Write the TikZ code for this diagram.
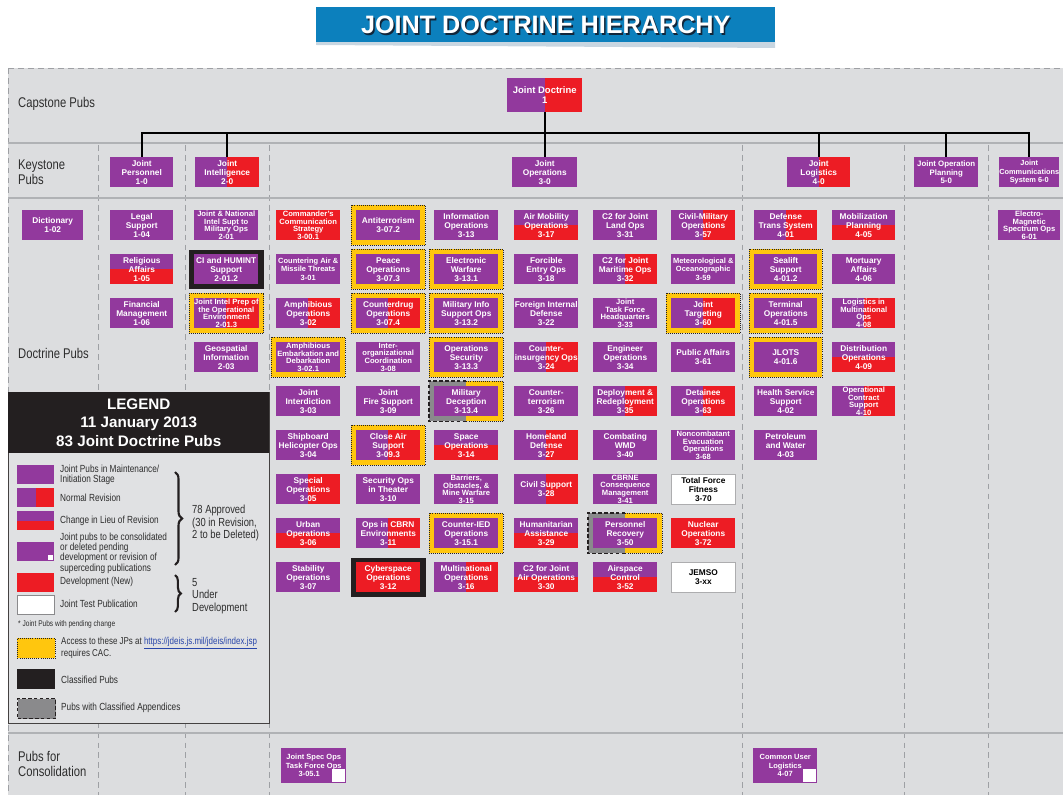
\documentclass[tikz,border=0pt]{standalone}
\usepackage{fontspec}
\setmainfont{Liberation Sans}
\newfontfamily\condfont[FakeStretch=0.8]{Liberation Sans}
\usetikzlibrary{decorations.pathreplacing}

\definecolor{jpurple}{RGB}{146,57,157}
\definecolor{jred}{RGB}{237,28,36}
\definecolor{jyellow}{RGB}{255,198,14}
\definecolor{jbg}{RGB}{220,221,223}
\definecolor{jlegbg}{RGB}{224,225,227}
\definecolor{jblue}{RGB}{12,128,189}
\definecolor{jribbon}{RGB}{200,214,225}
\definecolor{jshadow}{RGB}{18,38,58}
\definecolor{jdash}{RGB}{158,160,164}
\definecolor{jsep}{RGB}{176,178,181}
\definecolor{jblack}{RGB}{35,31,32}
\definecolor{jgray}{RGB}{138,138,140}
\definecolor{jtext}{RGB}{45,45,45}
\definecolor{jlink}{RGB}{40,70,170}

\pgfdeclarelayer{bg}
\pgfdeclarelayer{fr}
\pgfsetlayers{bg,fr,main}

\tikzset{
  pub/.style={rectangle, anchor=north west, minimum width=64*0.03cm,
    minimum height=30*0.03cm, inner sep=0pt, fill=jpurple, text=white,
    align=center, font=\bfseries\fontsize{7.1}{7.7}\selectfont},
  wd/.style={minimum width=#1*0.03cm},
  ht/.style={minimum height=#1*0.03cm},
  pubsmall/.style={font=\bfseries\fontsize{6.4}{7.4}\selectfont},
  pubtiny/.style={font=\bfseries\fontsize{6.5}{6.6}\selectfont},
  pubcons/.style={font=\bfseries\fontsize{6.4}{7.3}\selectfont},
  rev/.style={path picture={\fill[jred] (path picture bounding box.north)
    rectangle (path picture bounding box.south east);}},
  cilr/.style={path picture={\fill[jred] (path picture bounding box.west)
    rectangle (path picture bounding box.south east);}},
  consol/.style={path picture={\fill[white]
    ([shift={(-0.42cm,0.42cm)}]path picture bounding box.south east) rectangle
    ([shift={(-0.04cm,0.04cm)}]path picture bounding box.south east);}},
  legcons/.style={path picture={\fill[white]
    ([shift={(-0.2cm,0.2cm)}]path picture bounding box.south east) rectangle
    ([shift={(-0.03cm,0.03cm)}]path picture bounding box.south east);}},
  newpub/.style={fill=jred},
  testpub/.style={fill=white, text=black, draw=jgray!70, line width=0.6pt},
  cacline/.style={draw=jblack, line width=0.7pt, dash pattern=on 0.7pt off 1.1pt},
  cacf/.style={fill=jyellow, cacline},
  appline/.style={draw=jblack, line width=0.9pt, dash pattern=on 3pt off 2pt},
  appf/.style={fill=jgray, appline},
  clsf/.style={fill=jblack, draw=jblack},
  divl/.style={draw=jdash, line width=0.8pt, dash pattern=on 5pt off 3.5pt},
  sepl/.style={draw=jsep, line width=1.6pt},
  tree/.style={draw=black, line width=1.6pt},
  sectlabel/.style={anchor=west, inner sep=0pt, align=left, text=jtext,
    font=\condfont\fontsize{12}{12.8}\selectfont},
  swatch/.style={anchor=north west, minimum width=37*0.03cm,
    minimum height=19*0.03cm, inner sep=0pt, fill=jpurple},
  legtext/.style={anchor=west, inner sep=0pt, align=left, text=jtext,
    font=\condfont\fontsize{8.8}{8.8}\selectfont},
  bracetext/.style={anchor=west, inner sep=0pt, align=left, text=jtext,
    font=\condfont\fontsize{10}{10.7}\selectfont},
  legbrace/.style={decorate, decoration={brace, amplitude=#1}, line width=1.8pt, draw=jblack},
}

% one publication box: options, name, left x, top y, text
\newcommand\pb[5][]{\node[pub,#1] (#2) at (#3,#4) {#5};}
% frames drawn behind the boxes
\newcommand\cacframe[1]{\path[cacf] ([shift={(-5,-5)}]#1.north west) rectangle ([shift={(5,5)}]#1.south east);}
\newcommand\clsframe[1]{\path[clsf] ([shift={(-5,-4)}]#1.north west) rectangle ([shift={(5,4)}]#1.south east);}
\newcommand\splitframe[1]{%
  \fill[jgray] ([shift={(-5,-5)}]#1.north west) rectangle ([shift={(0,5)}]#1.south);
  \fill[jyellow] ([shift={(0,-5)}]#1.north) rectangle ([shift={(5,5)}]#1.south east);
  \draw[appline] ([shift={(0,-5)}]#1.north) -- ([shift={(-5,-5)}]#1.north west)
    -- ([shift={(-5,5)}]#1.south west) -- ([shift={(0,5)}]#1.south);
  \draw[cacline] ([shift={(0,-5)}]#1.north) -- ([shift={(5,-5)}]#1.north east)
    -- ([shift={(5,5)}]#1.south east) -- ([shift={(0,5)}]#1.south);}

\begin{document}
\begin{tikzpicture}[x=0.03cm,y=-0.03cm]
\useasboundingbox (0,0) rectangle (1063,795);

% ---------- background, section rules and column dividers ----------
\begin{pgfonlayer}{bg}
  \fill[jbg] (8,68) rectangle (1063,795);
  \draw[divl] (8,68) -- (1063,68);
  \draw[divl] (8,68) -- (8,795);
  \foreach \x in {98,185,269,742,904,988} \draw[divl] (\x,145) -- (\x,795);
  \foreach \y in {143,198,733} \draw[sepl] (8,\y) -- (1063,\y);
\end{pgfonlayer}

% ---------- title banner ----------
\fill[jribbon] (316,42) -- (775,42) -- (775,48) -- (316,45) -- cycle;
\node[fill=jblue, anchor=north west, minimum width=459*0.03cm,
  minimum height=35*0.03cm, inner sep=0pt] (banner) at (316,7) {};
\node[text=jshadow, font=\bfseries\fontsize{21.5}{24}\selectfont]
  (titleshadow) at ([shift={(1.6,1.6)}]banner.center) {JOINT DOCTRINE HIERARCHY};
\node[text=white, font=\bfseries\fontsize{21.5}{24}\selectfont]
  (title) at (banner.center) {JOINT DOCTRINE HIERARCHY};

% ---------- row labels ----------
\node[sectlabel] (lcap) at (18,104) {Capstone Pubs};
\node[sectlabel] (lkey) at (18,172) {Keystone\\Pubs};
\node[sectlabel] (ldoc) at (18,353) {Doctrine Pubs};
\node[sectlabel] (lcon) at (18,764) {Pubs for\\Consolidation};

% ---------- capstone and keystone ----------
\pb[wd=75,ht=34,rev,font=\bfseries\fontsize{8.1}{8.8}\selectfont]{jd}{507}{78}{Joint Doctrine\\1}
\pb[wd=63]{jper}{110}{157}{Joint\\Personnel\\1-0}
\pb[rev]{jint}{195}{157}{Joint\\Intelligence\\2-0}
\pb[wd=65]{jops}{512}{157}{Joint\\Operations\\3-0}
\pb[wd=63,rev]{jlog}{787}{157}{Joint\\Logistics\\4-0}
\pb[font=\bfseries\fontsize{6.7}{7.6}\selectfont]{jplan}{914}{157}{Joint Operation\\Planning\\5-0}
\pb[wd=60,font=\bfseries\fontsize{6.3}{7.4}\selectfont]{jcom}{999}{157}{Joint\\Communications\\System 6-0}

\coordinate (bus) at (0,133);
\draw[tree] (jper.north) -- (jper.north |- bus) -- (jcom.north |- bus) -- (jcom.north);
\foreach \n in {jint,jlog,jplan} \draw[tree] (\n.north) -- (\n.north |- bus);
\draw[tree] (jd.south) -- (jops.north);

% ---------- doctrine pubs: 1- and 2- series ----------
\pb[wd=61]{p102}{22}{210}{Dictionary\\1-02}
\pb[wd=63]{p104}{110}{210}{Legal\\Support\\1-04}
\pb[wd=63,cilr]{p105}{110}{254}{Religious\\Affairs\\1-05}
\pb[wd=63]{p106}{110}{298}{Financial\\Management\\1-06}
\pb[pubtiny]{p201}{194}{210}{Joint \& National\\Intel Supt to\\Military Ops\\2-01}
\pb{p2012}{194}{254}{CI and HUMINT\\Support\\2-01.2}
\pb[rev,pubtiny]{p2013}{194}{298}{Joint Intel Prep of\\the Operational\\Environment\\2-01.3}
\pb{p203}{194}{342}{Geospatial\\Information\\2-03}

% ---------- 3- series ----------
\pb[newpub,pubtiny]{p3001}{276}{210}{Commander's\\Communication\\Strategy\\3-00.1}
\pb[pubsmall]{p301}{276}{254}{Countering Air \&\\Missile Threats\\3-01}
\pb[rev]{p302}{276}{298}{Amphibious\\Operations\\3-02}
\pb[pubtiny]{p3021}{276}{342}{Amphibious\\Embarkation and\\Debarkation\\3-02.1}
\pb{p303}{276}{386}{Joint\\Interdiction\\3-03}
\pb{p304}{276}{430}{Shipboard\\Helicopter Ops\\3-04}
\pb[rev]{p305}{276}{474}{Special\\Operations\\3-05}
\pb[cilr]{p306}{276}{518}{Urban\\Operations\\3-06}
\pb{p307}{276}{562}{Stability\\Operations\\3-07}

\pb{p3072}{356}{210}{Antiterrorism\\3-07.2}
\pb{p3073}{356}{254}{Peace\\Operations\\3-07.3}
\pb[rev]{p3074}{356}{298}{Counterdrug\\Operations\\3-07.4}
\pb[pubtiny]{p308}{356}{342}{Inter-\\organizational\\Coordination\\3-08}
\pb{p309}{356}{386}{Joint\\Fire Support\\3-09}
\pb[rev]{p3093}{356}{430}{Close Air\\Support\\3-09.3}
\pb{p310}{356}{474}{Security Ops\\in Theater\\3-10}
\pb[rev]{p311}{356}{518}{Ops in CBRN\\Environments\\3-11}
\pb[newpub]{p312}{356}{562}{Cyberspace\\Operations\\3-12}

\pb{p313}{434}{210}{Information\\Operations\\3-13}
\pb{p3131}{434}{254}{Electronic\\Warfare\\3-13.1}
\pb{p3132}{434}{298}{Military Info\\Support Ops\\3-13.2}
\pb{p3133}{434}{342}{Operations\\Security\\3-13.3}
\pb{p3134}{434}{386}{Military\\Deception\\3-13.4}
\pb[cilr]{p314}{434}{430}{Space\\Operations\\3-14}
\pb[pubtiny]{p315}{434}{474}{Barriers,\\Obstacles, \&\\Mine Warfare\\3-15}
\pb{p3151}{434}{518}{Counter-IED\\Operations\\3-15.1}
\pb[rev]{p316}{434}{562}{Multinational\\Operations\\3-16}

\pb[cilr]{p317}{514}{210}{Air Mobility\\Operations\\3-17}
\pb{p318}{514}{254}{Forcible\\Entry Ops\\3-18}
\pb{p322}{514}{298}{Foreign Internal\\Defense\\3-22}
\pb[rev]{p324}{514}{342}{Counter-\\insurgency Ops\\3-24}
\pb{p326}{514}{386}{Counter-\\terrorism\\3-26}
\pb[rev]{p327}{514}{430}{Homeland\\Defense\\3-27}
\pb[rev]{p328}{514}{474}{Civil Support\\3-28}
\pb[cilr]{p329}{514}{518}{Humanitarian\\Assistance\\3-29}
\pb[cilr]{p330}{514}{562}{C2 for Joint\\Air Operations\\3-30}

\pb{p331}{593}{210}{C2 for Joint\\Land Ops\\3-31}
\pb[rev]{p332}{593}{254}{C2 for Joint\\Maritime Ops\\3-32}
\pb[pubtiny]{p333}{593}{298}{Joint\\Task Force\\Headquarters\\3-33}
\pb{p334}{593}{342}{Engineer\\Operations\\3-34}
\pb[rev]{p335}{593}{386}{Deployment \&\\Redeployment\\3-35}
\pb{p340}{593}{430}{Combating\\WMD\\3-40}
\pb[pubtiny]{p341}{593}{474}{CBRNE\\Consequence\\Management\\3-41}
\pb{p350}{593}{518}{Personnel\\Recovery\\3-50}
\pb[cilr]{p352}{593}{562}{Airspace\\Control\\3-52}

\pb[rev]{p357}{671}{210}{Civil-Military\\Operations\\3-57}
\pb[pubsmall]{p359}{671}{254}{Meteorological \&\\Oceanographic\\3-59}
\pb[rev]{p360}{671}{298}{Joint\\Targeting\\3-60}
\pb{p361}{671}{342}{Public Affairs\\3-61}
\pb[rev]{p363}{671}{386}{Detainee\\Operations\\3-63}
\pb[pubtiny]{p368}{671}{430}{Noncombatant\\Evacuation\\Operations\\3-68}
\pb[testpub]{p370}{671}{474}{Total Force\\Fitness\\3-70}
\pb[newpub]{p372}{671}{518}{Nuclear\\Operations\\3-72}
\pb[testpub]{pjemso}{671}{562}{JEMSO\\3-xx}

% ---------- 4- and 6- series ----------
\pb[wd=63,rev]{p401}{754}{210}{Defense\\Trans System\\4-01}
\pb[wd=63]{p4012}{754}{254}{Sealift\\Support\\4-01.2}
\pb[wd=63]{p4015}{754}{298}{Terminal\\Operations\\4-01.5}
\pb[wd=63]{p4016}{754}{342}{JLOTS\\4-01.6}
\pb[wd=63]{p402}{754}{386}{Health Service\\Support\\4-02}
\pb[wd=63]{p403}{754}{430}{Petroleum\\and Water\\4-03}

\pb[wd=63,cilr]{p405}{832}{210}{Mobilization\\Planning\\4-05}
\pb[wd=63]{p406}{832}{254}{Mortuary\\Affairs\\4-06}
\pb[wd=63,rev,pubtiny]{p408}{832}{298}{Logistics in\\Multinational\\Ops\\4-08}
\pb[wd=63,cilr]{p409}{832}{342}{Distribution\\Operations\\4-09}
\pb[wd=63,rev,pubtiny]{p410}{832}{386}{Operational\\Contract\\Support\\4-10}

\pb[wd=62,pubtiny]{p601}{998}{210}{Electro-\\Magnetic\\Spectrum Ops\\6-01}

% ---------- pubs for consolidation ----------
\pb[wd=65,ht=35,consol,pubcons]{p3051}{281}{748}{Joint Spec Ops\\Task Force Ops\\3-05.1\hspace*{1.2em}}
\pb[wd=64,ht=35,consol,pubcons]{p407}{753}{748}{Common User\\Logistics\\4-07}

% ---------- access / classification frames ----------
\begin{pgfonlayer}{fr}
  \foreach \n in {p2013,p3021,p3072,p3073,p3074,p3093,p3131,p3132,p3133,p3151,p360,p4012,p4015,p4016}
    {\cacframe{\n}}
  \clsframe{p2012}
  \clsframe{p312}
  \splitframe{p3134}
  \splitframe{p350}
\end{pgfonlayer}

% ---------- legend ----------
\node[draw=jblack!85, line width=0.8pt, fill=jlegbg, anchor=north west,
  minimum width=261*0.03cm, minimum height=331*0.03cm, inner sep=0pt] (legend) at (8,392) {};
\node[fill=jblack, anchor=north west, minimum width=261*0.03cm, minimum height=61*0.03cm,
  inner sep=0pt, text=white, align=center, font=\bfseries\fontsize{13}{15.5}\selectfont]
  (leghead) at (8,392) {LEGEND\\11 January 2013\\83 Joint Doctrine Pubs};

\node[swatch] (s1) at (17,465) {};
\node[swatch,rev] (s2) at (17,488) {};
\node[swatch,cilr] (s3) at (17,511) {};
\node[swatch,legcons] (s4) at (17,542) {};
\node[swatch,fill=jred] (s5) at (17,573) {};
\node[swatch,fill=white,draw=jgray,line width=0.6pt] (s6) at (17,595) {};
\node[swatch,wd=38,ht=20,cacf] (s7) at (17,638) {};
\node[swatch,wd=38,ht=20,fill=jblack] (s8) at (17,669) {};
\node[swatch,wd=38,ht=20,appf] (s9) at (17,698) {};

\node[legtext] (t1) at (60,475) {Joint Pubs in Maintenance/\\Initiation Stage};
\node[legtext] (t2) at (60,498) {Normal Revision};
\node[legtext] (t3) at (60,521) {Change in Lieu of Revision};
\node[legtext] (t4) at (60,553) {Joint pubs to be consolidated\\or deleted pending\\development or revision of\\superceding publications};
\node[legtext] (t5) at (60,582) {Development (New)};
\node[legtext] (t6) at (60,604) {Joint Test Publication};
\node[legtext,font=\condfont\fontsize{7}{7.5}\selectfont] (t7) at (18,624) {* Joint Pubs with pending change};
\node[legtext,font=\condfont\fontsize{8.5}{8.8}\selectfont] (t8) at (61,648) {Access to these JPs at \textcolor{jlink}{\underline{https://jdeis.js.mil/jdeis/index.jsp}}\\requires CAC.};
\node[legtext] (t9) at (61,680) {Classified Pubs};
\node[legtext] (t10) at (61,708) {Pubs with Classified Appendices};

\coordinate (b1t) at (175,472);
\coordinate (b1b) at (175,565);
\coordinate (b2t) at (175,575);
\coordinate (b2b) at (175,612);
\draw[legbrace=6pt] (b1t) -- (b1b);
\draw[legbrace=5pt] (b2t) -- (b2b);
\node[bracetext] (a78) at (192,523) {78 Approved\\(30 in Revision,\\2 to be Deleted)};
\node[bracetext] (a5) at (192,596) {5\\Under\\Development};

\end{tikzpicture}
\end{document}
